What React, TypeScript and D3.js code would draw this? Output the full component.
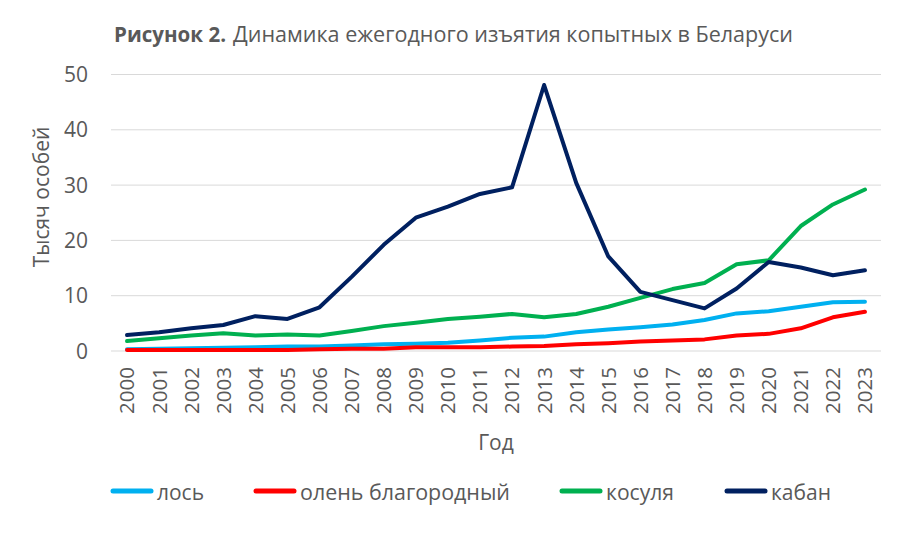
import * as d3 from 'd3';

const years = d3.range(2000, 2024).map(String);
// тыс. особей
const los = [0.3, 0.4, 0.5, 0.6, 0.7, 0.8, 0.8, 1.0, 1.2, 1.3, 1.5, 1.9, 2.4, 2.6, 3.4, 3.9, 4.3, 4.8, 5.6, 6.8, 7.2, 8.0, 8.8, 8.9];
const olen = [0.2, 0.2, 0.2, 0.2, 0.2, 0.2, 0.3, 0.4, 0.4, 0.7, 0.7, 0.7, 0.8, 0.9, 1.2, 1.4, 1.7, 1.9, 2.1, 2.8, 3.1, 4.1, 6.1, 7.1];
const kosulya = [1.8, 2.3, 2.8, 3.2, 2.8, 3.0, 2.8, 3.6, 4.5, 5.1, 5.8, 6.2, 6.7, 6.1, 6.7, 8.0, 9.6, 11.2, 12.3, 15.7, 16.4, 22.6, 26.5, 29.2];
const kaban = [2.9, 3.4, 4.1, 4.7, 6.3, 5.8, 7.9, 13.4, 19.2, 24.1, 26.1, 28.4, 29.6, 48.1, 30.4, 17.1, 10.7, 9.2, 7.7, 11.3, 16.1, 15.1, 13.7, 14.6];
const yTicks = [0, 10, 20, 30, 40, 50];

const series = [
  { name: 'лось', values: los, color: '#00B0F0' },
  { name: 'олень благородный', values: olen, color: '#FF0000' },
  { name: 'косуля', values: kosulya, color: '#00B050' },
  { name: 'кабан', values: kaban, color: '#002060' },
];

const font = '"Open Sans", "Noto Sans", sans-serif';
const textColor = '#595959';

export default function App() {
  const width = 904;
  const height = 536;
  const margin = { top: 74.5, right: 23, bottom: 185, left: 111 };

  const x = d3.scaleBand().domain(years).range([margin.left, width - margin.right]);
  const y = d3.scaleLinear().domain([0, 50]).range([height - margin.bottom, margin.top]);

  const line = d3.line<number>()
    .x((_, i) => x(years[i])! + x.bandwidth() / 2)
    .y(d => y(d));

  // legend: swatch start and text width, as in the source picture
  const legendX = [111, 254, 560, 725];
  const legendW = [47, 210, 68, 60];

  return (
    <svg width={width} height={height} style={{ position: 'absolute', left: 0, top: 0, background: '#fff' }} fontFamily={font}>
      {/* Title */}
      <text x={114} y={42} fontSize={21.5} fill={textColor} fontWeight="bold"
        textLength={112} lengthAdjust="spacingAndGlyphs">Рисунок 2.</text>
      <text x={233} y={42} fontSize={21.5} fill={textColor}
        textLength={560} lengthAdjust="spacingAndGlyphs">Динамика ежегодного изъятия копытных в Беларуси</text>

      {/* Grid */}
      {yTicks.map(t => (
        <g key={t}>
          <line x1={margin.left} x2={width - margin.right} y1={y(t)} y2={y(t)} stroke="#d9d9d9" strokeWidth={1} />
          <text x={88} y={y(t)} dy="0.36em" textAnchor="end" fontSize={21} fill={textColor}>{t}</text>
        </g>
      ))}

      {/* X labels */}
      {years.map(yr => (
        <text key={yr}
          transform={`translate(${x(yr)! + x.bandwidth() / 2},${y(0) + 16}) rotate(-90)`}
          textAnchor="end" dy="0.36em" fontSize={20.5} fill={textColor}>{yr}</text>
      ))}

      {/* Axis titles */}
      <text x={(margin.left + width - margin.right) / 2} y={450} textAnchor="middle" fontSize={21} fill={textColor}>Год</text>
      <text transform={`translate(49,197) rotate(-90)`} textAnchor="middle" fontSize={21} fill={textColor}>Тысяч особей</text>

      {/* Lines */}
      {series.map(s => (
        <path key={s.name} d={line(s.values)!} fill="none" stroke={s.color} strokeWidth={4} strokeLinejoin="round" strokeLinecap="round" />
      ))}

      {/* Legend */}
      {series.map((s, i) => (
        <g key={s.name} transform={`translate(${legendX[i]},491)`}>
          <line x1={2} x2={40} y1={0} y2={0} stroke={s.color} strokeWidth={5} strokeLinecap="round" />
          <text x={46} y={9} fontSize={21.5} fill={textColor}
            textLength={legendW[i]} lengthAdjust="spacingAndGlyphs">{s.name}</text>
        </g>
      ))}
    </svg>
  );
}
